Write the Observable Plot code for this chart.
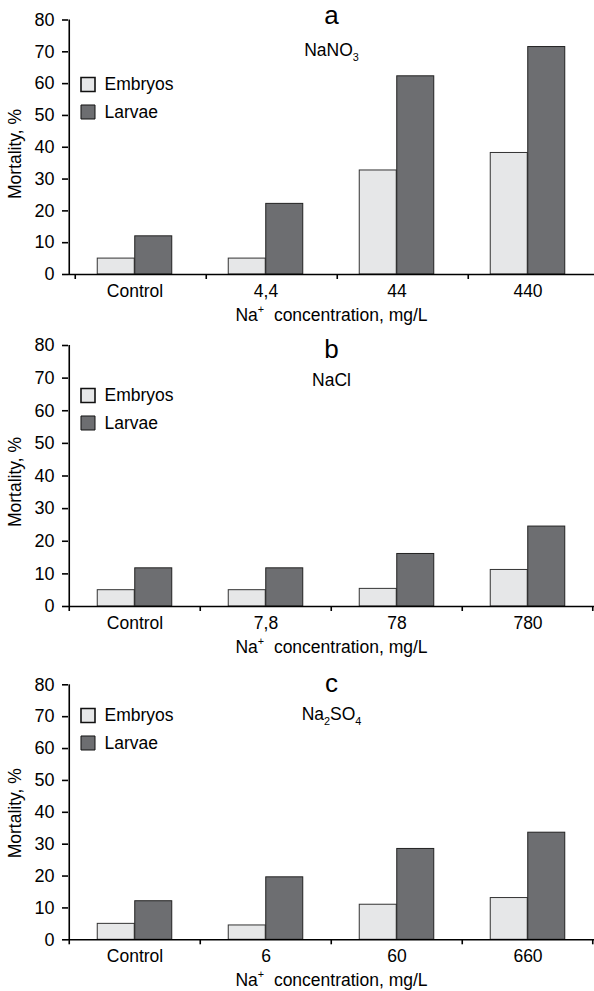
<!DOCTYPE html>
<html>
<head>
<meta charset="utf-8">
<script src="https://cdn.jsdelivr.net/npm/d3@7"></script>
<script src="https://cdn.jsdelivr.net/npm/@observablehq/plot@0.6"></script>
<style>
  html, body { margin: 0; padding: 0; background: #fff; }
  #chart svg { display: block; }
</style>
</head>
<body>
<div id="chart"></div>
<script>
// ---- data ----
const series = ["Embryos", "Larvae"];
const yTicks = [0, 10, 20, 30, 40, 50, 60, 70, 80];

const lettersP = ["a", "b", "c"];
const salts = ["NaNO_3", "NaCl", "Na_2SO_4"];
const xTitle = "Na^+  concentration, mg/L";
const yTitle = "Mortality, %";

const concA = ["Control", "4,4", "44", "440"];
const embryosA = [5.0, 5.0, 32.7, 38.2];
const larvaeA = [12.0, 22.2, 62.3, 71.5];

const concB = ["Control", "7,8", "78", "780"];
const embryosB = [5.0, 5.0, 5.4, 11.2];
const larvaeB = [11.7, 11.7, 16.1, 24.5];

const concC = ["Control", "6", "60", "660"];
const embryosC = [5.0, 4.5, 11.0, 13.1];
const larvaeC = [12.1, 19.6, 28.5, 33.6];

const colors = ["#e6e7e8", "#6d6e71"];

// ---- layout per panel ----
const layout = [
  {h: 330, mt: 19.5, mb: 56, titleDy: 3.5, subDy: 35.5, legDy: 64.5, ylabDy: 6.7, tickShift: 6, rightTick: false},
  {h: 330, mt: 15, mb: 54, titleDy: 12, subDy: 40, legDy: 50, ylabDy: 6, tickShift: 0, rightTick: true},
  {h: 331, mt: 24.3, mb: 51.7, titleDy: 7.4, subDy: 34.7, legDy: 30.7, ylabDy: 1, tickShift: 0, rightTick: true}
];

const W = 594, ML = 68, MR = 0;
const FONT = "'Liberation Sans', Arial, Helvetica, sans-serif";
const FS = 17.5;

const cats = [concA, concB, concC];
const emb = [embryosA, embryosB, embryosC];
const lar = [larvaeA, larvaeB, larvaeC];

function richText(svg) {
  d3.select(svg).selectAll("text").each(function () {
    const s = this.textContent;
    if (!/[_^]/.test(s)) return;
    const fs = parseFloat(getComputedStyle(this).fontSize) || FS;
    const parts = s.split(/([_^].)/).filter(p => p.length);
    while (this.firstChild) this.removeChild(this.firstChild);
    let shift = 0;
    for (const p of parts) {
      const t = document.createElementNS("http://www.w3.org/2000/svg", "tspan");
      if (p[0] === "_" || p[0] === "^") {
        const d = p[0] === "_" ? 0.3 * fs : -0.45 * fs;
        t.setAttribute("dy", d - shift);
        shift = d;
        t.setAttribute("font-size", (0.62 * fs) + "px");
        t.textContent = p[1];
      } else {
        if (shift) t.setAttribute("dy", -shift);
        shift = 0;
        t.textContent = p;
      }
      this.appendChild(t);
    }
  });
}

const root = document.getElementById("chart");

for (let k = 0; k < 3; k++) {
  const L = layout[k];
  const c = cats[k];
  const data = [];
  c.forEach((cat, i) => {
    data.push({cat, series: series[0], value: emb[k][i]});
    data.push({cat, series: series[1], value: lar[k][i]});
  });
  const bw = (W - ML - MR) / c.length;
  const barW = 37.5;
  const outer = (bw - 2 * barW) / 2;

  const marks = [
    Plot.barY(data.filter(d => d.series === series[0]), {
      x: "cat", y: "value", fill: colors[0], stroke: "#333", strokeWidth: 1,
      insetLeft: outer, insetRight: outer + barW
    }),
    Plot.barY(data.filter(d => d.series === series[1]), {
      x: "cat", y: "value", fill: colors[1], stroke: "#222", strokeWidth: 1,
      insetLeft: outer + barW, insetRight: outer
    }),
    // axes lines
    Plot.ruleY([0], {stroke: "#000", strokeWidth: 1.6}),
    Plot.ruleX([c[0]], {y1: 0, y2: 80, dx: -bw / 2, stroke: "#000", strokeWidth: 1.6}),
    Plot.axisY({ticks: yTicks, tickSize: 6, tickPadding: 8, fontSize: 18, label: null, strokeWidth: 1.6}),
    // x labels at band centers
    Plot.axisX({ticks: c, tickSize: 0, tickPadding: 10, fontSize: FS, label: null}),
    // tick marks at band edges
    Plot.axisX({ticks: c, tickSize: 5, tickPadding: 0, tickFormat: () => "", label: null,
      dx: -bw / 2 + L.tickShift, strokeWidth: 1.6}),
    // titles
    Plot.text([lettersP[k]], {text: d => d, frameAnchor: "top", lineAnchor: "bottom",
      dy: L.titleDy, fontSize: 26}),
    Plot.text([salts[k]], {text: d => d, frameAnchor: "top", lineAnchor: "bottom",
      dy: L.subDy, fontSize: 17.5}),
    // axis titles
    Plot.text([xTitle], {text: d => d, frameAnchor: "bottom", lineAnchor: "bottom",
      dy: 46, fontSize: FS}),
    Plot.text([yTitle], {text: d => d, frameAnchor: "left", rotate: -90,
      textAnchor: "middle", lineAnchor: "middle", dx: -53, dy: L.ylabDy, fontSize: FS})
  ];
  if (L.rightTick) {
    marks.push(Plot.axisX({ticks: [c[c.length - 1]], tickSize: 5, tickPadding: 0,
      tickFormat: () => "", label: null, dx: bw / 2 - 1, strokeWidth: 1.6}));
  }
  // legend
  series.forEach((s, j) => {
    marks.push(Plot.dot([s], {frameAnchor: "top-left", symbol: "square", r: 7.9,
      fill: colors[j], stroke: "#111", strokeWidth: j === 0 ? 1.6 : 1,
      dx: 19.5, dy: L.legDy + j * 27.5}));
    marks.push(Plot.text([s], {text: d => d, frameAnchor: "top-left", textAnchor: "start",
      lineAnchor: "middle", dx: 36, dy: L.legDy + j * 27.5, fontSize: FS}));
  });

  const svg = Plot.plot({
    width: W,
    height: L.h,
    marginLeft: ML,
    marginRight: MR,
    marginTop: L.mt,
    marginBottom: L.mb,
    style: {fontFamily: FONT, fontSize: FS + "px", color: "#000", background: "#fff", overflow: "visible"},
    x: {domain: c, padding: 0, axis: null},
    y: {domain: [0, 80], axis: null},
    marks
  });
  root.appendChild(svg);
  richText(svg);
}
</script>
</body>
</html>
